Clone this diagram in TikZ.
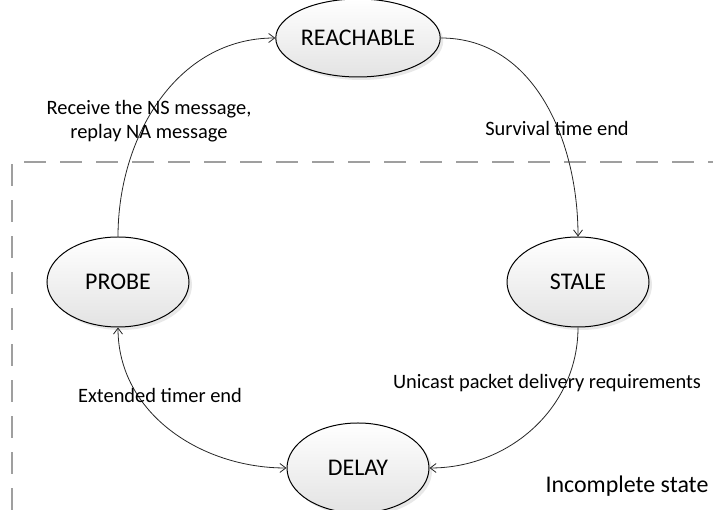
\documentclass[tikz,border=0pt]{standalone}
\usepackage{fontspec}
\setmainfont{Carlito}
\usetikzlibrary{shapes.geometric,arrows.meta,shadows}

\begin{document}
\begin{tikzpicture}[x=1bp,y=1bp,
    state/.style={ellipse,draw,line width=1bp,minimum width=142bp,minimum height=90bp,
      inner sep=1bp,top color=white,bottom color=gray!22,
      drop shadow={opacity=.18,shadow xshift=3bp,shadow yshift=-3bp},
      font=\fontsize{24}{28}\selectfont},
    lbl/.style={font=\fontsize{20.5}{24}\selectfont,align=center,inner sep=0pt},
    trans/.style={line width=.8bp,black!85},
    >={Straight Barb[length=6bp,width=9bp]}]
  \useasboundingbox (0,0) rectangle (713,510);

  % region of the incomplete states
  \draw[gray!75,line width=1.3bp,dash pattern=on 22bp off 14bp] (12,0) |- (713,348);

  \node (REACH) at (358,472) [state,minimum height=78bp] {REACHABLE};
  \node (PROBE) at (118,228) [state] {PROBE};
  \node (STALE) at (578,228) [state] {STALE};
  \node (DELAY) at (358,42) [state] {DELAY};

  \draw[trans,->] (PROBE.north) to[out=90,in=180] (REACH.west);
  \draw[trans,->] (REACH.east) to[out=0,in=90] (STALE.north);
  \draw[trans,->] (STALE.south) to[out=-90,in=0] (DELAY.east);
  \draw[trans,<->] (PROBE.south) to[out=-90,in=180] (DELAY.west);

  \node (rcv) at (149,389) [lbl] {Receive the NS message,\\replay NA message};
  \node (surv) at (557,382) [lbl] {Survival time end};
  \node (uni) at (547,127) [lbl] {Unicast packet delivery requirements};
  \node (ext) at (160,115) [lbl] {Extended timer end};
  \node (inc) at (627,24) [lbl,font=\fontsize{24}{28}\selectfont] {Incomplete state};
\end{tikzpicture}
\end{document}
